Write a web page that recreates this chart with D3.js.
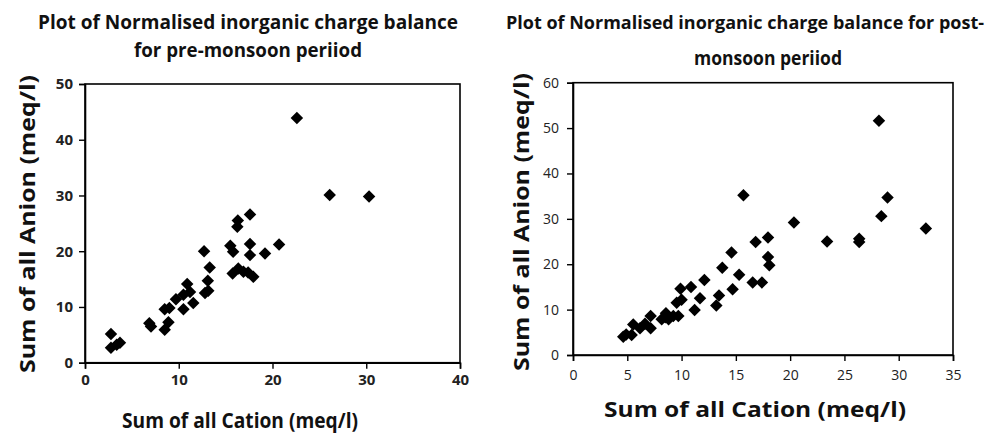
<!DOCTYPE html>
<html><head><meta charset="utf-8">
<script src="https://cdn.jsdelivr.net/npm/d3@7"></script>
<style>body{margin:0;background:#fff}svg{display:block}</style>
</head><body>
<svg id="c" width="1002" height="434"></svg>
<script>
// Pre-monsoon data
const preCation = [22.6,26.1,30.3,17.6,16.3,16.25,15.5,15.8,17.6,17.6,19.2,20.7,12.7,13.3,15.75,16.35,16.9,17.4,17.95,13.1,13.15,12.8,10.9,11.2,10.5,11.55,10.5,9.7,8.5,9.0,8.9,8.5,6.86,7.04,2.77,2.77,3.38,3.73];
const preAnion  = [43.9,30.1,29.8,26.6,25.5,24.4,21.0,19.9,21.3,19.3,19.6,21.2,20.0,17.1,16.0,16.9,16.3,16.2,15.4,14.7,12.9,12.5,14.1,12.7,12.2,10.7,9.6,11.4,9.6,9.8,7.25,5.9,7.07,6.5,5.15,2.7,3.2,3.6];
// Post-monsoon data
const postCation = [28.18,15.7,28.97,28.4,32.5,20.35,23.4,26.36,26.36,17.96,16.82,17.96,18.08,14.6,13.75,15.3,16.55,17.4,14.7,12.1,10.87,9.9,13.45,13.2,11.7,11.2,10.0,9.55,9.7,9.24,8.8,8.5,8.17,8.56,7.15,7.15,6.63,6.17,5.55,5.4,4.63,4.9];
const postAnion  = [51.6,35.2,34.7,30.6,27.9,29.2,25.0,25.6,24.9,25.9,24.9,21.6,19.8,22.6,19.2,17.7,16.0,16.0,14.5,16.5,15.0,14.6,13.1,10.9,12.5,9.9,12.2,11.5,8.6,8.6,7.9,8.3,7.9,9.2,8.6,5.9,6.9,5.9,6.7,4.4,4.0,4.5];
const preXTicks = [0,10,20,30,40];
const preYTicks = [0,10,20,30,40,50];
const postXTicks = [0,5,10,15,20,25,30,35];
const postYTicks = [0,10,20,30,40,50,60];
const preTitle = ["Plot of Normalised inorganic charge balance","for pre-monsoon periiod"];
const postTitle = ["Plot of Normalised inorganic charge balance for post-","monsoon periiod"];
const xTitle = "Sum of all Cation (meq/l)";
const yTitle = "Sum of all Anion (meq/l)";

const svg = d3.select("#c");
const FONT = "'Liberation Sans Narrow','Open Sans',Arial,sans-serif";

function panel(o){
  const x = d3.scaleLinear().domain(o.xd).range([o.l,o.r]);
  const y = d3.scaleLinear().domain(o.yd).range([o.b,o.t]);
  const g = svg.append("g");
  g.append("rect").attr("x",o.l).attr("y",o.t).attr("width",o.r-o.l).attr("height",o.b-o.t)
    .attr("fill","none").attr("stroke","#000").attr("stroke-width",1.6);
  const xa = g.append("g").attr("transform",`translate(0,${o.b})`)
    .call(d3.axisBottom(x).tickValues(o.xt).tickSize(6).tickPadding(o.xpad).tickFormat(d3.format("d")));
  const ya = g.append("g").attr("transform",`translate(${o.l},0)`)
    .call(d3.axisLeft(y).tickValues(o.yt).tickSize(6).tickPadding(o.ypad).tickFormat(d3.format("d")));
  [xa,ya].forEach(a=>{
    a.select(".domain").attr("stroke","#000").attr("stroke-width",1.6);
    a.selectAll(".tick line").attr("stroke","#000").attr("stroke-width",1.4);
    a.selectAll("text").attr("font-family",FONT).attr("font-size",o.tickFs)
      .attr("font-weight",o.tickW).attr("fill","#222");
  });
  const sym = d3.symbol(d3.symbolSquare,78)();
  g.selectAll("path.pt").data(o.xs.map((v,i)=>[v,o.ys[i]])).join("path")
    .attr("class","pt").attr("d",sym)
    .attr("transform",d=>`translate(${x(d[0])},${y(d[1])}) rotate(45)`)
    .attr("fill","#000");
  o.title.forEach((t,i)=>{
    svg.append("text").attr("x",o.tx[i]).attr("y",o.ty[i])
      .attr("text-anchor",o.tanchor[i]).attr("font-family",FONT).attr("font-weight","bold")
      .attr("font-size",o.tfs[i]).attr("fill","#111")
      .attr("textLength",o.tlen[i]).attr("lengthAdjust","spacingAndGlyphs").text(t);
  });
  svg.append("text").attr("x",o.xtx).attr("y",o.xty).attr("text-anchor","middle")
    .attr("font-family",FONT).attr("font-weight","bold").attr("font-size",o.axFs).attr("fill","#111")
    .attr("textLength",o.xtl).attr("lengthAdjust","spacingAndGlyphs").text(xTitle);
  svg.append("text").attr("transform",`translate(${o.ytx},${o.yty}) rotate(-90)`).attr("text-anchor","middle")
    .attr("font-family",FONT).attr("font-weight","bold").attr("font-size",o.axFs).attr("fill","#111")
    .attr("textLength",o.ytl).attr("lengthAdjust","spacingAndGlyphs").text(yTitle);
}

panel({l:85,r:460,t:84,b:362.7,xd:[0,40],yd:[0,50],xt:preXTicks,yt:preYTicks,
  xpad:6,ypad:6,tickFs:15,tickW:"bold",xs:preCation,ys:preAnion,
  title:preTitle,tx:[248,248],ty:[29,57],tanchor:["middle","middle"],tlen:[420,228],tfs:[19,19],
  xtx:240,xty:428,xtl:236,ytx:35,yty:224,ytl:298,axFs:21});
panel({l:573,r:953,t:82.7,b:355,xd:[0,35],yd:[0,60],xt:postXTicks,yt:postYTicks,
  xpad:9,ypad:8,tickFs:14,tickW:"normal",xs:postCation,ys:postAnion,
  title:postTitle,tx:[506,768],ty:[29,65],tanchor:["start","middle"],tlen:[478,148],tfs:[18,19],
  xtx:755,xty:417,xtl:302,ytx:529,yty:222,ytl:298,axFs:21});
</script>
</body></html>
